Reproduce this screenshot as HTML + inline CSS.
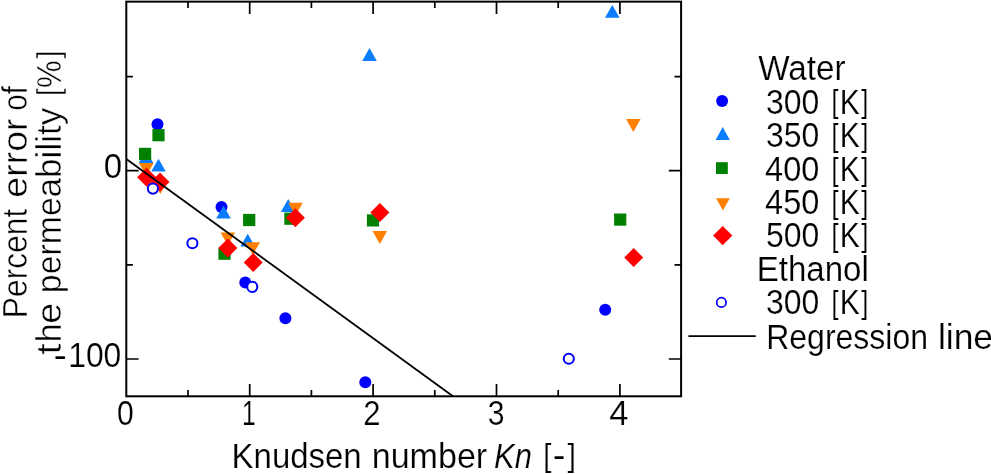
<!DOCTYPE html>
<html><head><meta charset="utf-8"><title>Percent error of the permeability vs Knudsen number</title>
<style>
html,body{margin:0;padding:0;background:#fff;}
svg{display:block;}
text{font-family:"Liberation Sans",sans-serif;font-size:35.5px;fill:#000;stroke:#fff;stroke-width:0.2px;}
</style></head><body>
<svg width="991" height="474" viewBox="0 0 991 474">
<rect width="991" height="474" fill="#fff"/>
<rect x="126.3" y="1.65" width="554.80" height="394.65" fill="none" stroke="#000" stroke-width="2.0"/>
<path d="M188.00 396.3v-6.3M188.00 1.65v6.3M249.70 396.3v-12.3M249.70 1.65v12.3M311.40 396.3v-6.3M311.40 1.65v6.3M373.10 396.3v-12.3M373.10 1.65v12.3M434.80 396.3v-6.3M434.80 1.65v6.3M496.50 396.3v-12.3M496.50 1.65v12.3M558.20 396.3v-6.3M558.20 1.65v6.3M619.90 396.3v-12.3M619.90 1.65v12.3M126.3 76.55h6.6M681.1 76.55h-6.6M126.3 170.70h12.3M681.1 170.70h-12.3M126.3 264.85h6.6M681.1 264.85h-6.6M126.3 359.00h12.3M681.1 359.00h-12.3" stroke="#000" stroke-width="1.7" fill="none"/>
<circle cx="157.5" cy="124.3" r="6.0" fill="#0000ff"/>
<circle cx="221.5" cy="207.1" r="6.0" fill="#0000ff"/>
<circle cx="245.3" cy="282.5" r="6.0" fill="#0000ff"/>
<circle cx="285.4" cy="318.2" r="6.0" fill="#0000ff"/>
<circle cx="365.3" cy="382.3" r="6.0" fill="#0000ff"/>
<circle cx="605.2" cy="309.8" r="6.0" fill="#0000ff"/>
<path d="M138.70 163.10L153.30 163.10L146.00 150.30Z" fill="#0a7dff"/>
<path d="M151.20 171.50L165.80 171.50L158.50 158.70Z" fill="#0a7dff"/>
<path d="M216.20 218.40L230.80 218.40L223.50 205.60Z" fill="#0a7dff"/>
<path d="M240.40 246.50L255.00 246.50L247.70 233.70Z" fill="#0a7dff"/>
<path d="M280.90 211.90L295.50 211.90L288.20 199.10Z" fill="#0a7dff"/>
<path d="M362.20 60.90L376.80 60.90L369.50 48.10Z" fill="#0a7dff"/>
<path d="M605.00 17.70L619.60 17.70L612.30 4.90Z" fill="#0a7dff"/>
<rect x="152.40" y="129.10" width="12.2" height="12.2" fill="#008000"/>
<rect x="139.00" y="147.80" width="12.2" height="12.2" fill="#008000"/>
<rect x="218.40" y="247.60" width="12.2" height="12.2" fill="#008000"/>
<rect x="243.10" y="213.90" width="12.2" height="12.2" fill="#008000"/>
<rect x="284.30" y="212.60" width="12.2" height="12.2" fill="#008000"/>
<rect x="366.90" y="214.30" width="12.2" height="12.2" fill="#008000"/>
<rect x="614.10" y="213.50" width="12.2" height="12.2" fill="#008000"/>
<path d="M139.00 163.00L153.60 163.00L146.30 175.80Z" fill="#ff8000"/>
<path d="M153.00 181.10L167.60 181.10L160.30 193.90Z" fill="#ff8000"/>
<path d="M220.50 232.50L235.10 232.50L227.80 245.30Z" fill="#ff8000"/>
<path d="M245.40 242.30L260.00 242.30L252.70 255.10Z" fill="#ff8000"/>
<path d="M288.20 202.80L302.80 202.80L295.50 215.60Z" fill="#ff8000"/>
<path d="M372.50 231.10L387.10 231.10L379.80 243.90Z" fill="#ff8000"/>
<path d="M626.00 119.10L640.60 119.10L633.30 131.90Z" fill="#ff8000"/>
<path d="M137.10 177.2L146.6 167.70L156.10 177.2L146.6 186.70Z" fill="#ff0000"/>
<path d="M150.50 182.0L160.0 172.50L169.50 182.0L160.0 191.50Z" fill="#ff0000"/>
<path d="M218.30 248.1L227.8 238.60L237.30 248.1L227.8 257.60Z" fill="#ff0000"/>
<path d="M243.70 262.5L253.2 253.00L262.70 262.5L253.2 272.00Z" fill="#ff0000"/>
<path d="M285.90 217.8L295.4 208.30L304.90 217.8L295.4 227.30Z" fill="#ff0000"/>
<path d="M370.40 212.5L379.9 203.00L389.40 212.5L379.9 222.00Z" fill="#ff0000"/>
<path d="M624.20 257.6L633.7 248.10L643.20 257.6L633.7 267.10Z" fill="#ff0000"/>
<circle cx="152.9" cy="188.6" r="5.05" fill="#fff" stroke="#0000ff" stroke-width="2.0"/>
<circle cx="192.4" cy="243.2" r="5.05" fill="#fff" stroke="#0000ff" stroke-width="2.0"/>
<circle cx="252.3" cy="286.9" r="5.05" fill="#fff" stroke="#0000ff" stroke-width="2.0"/>
<circle cx="568.8" cy="358.8" r="5.05" fill="#fff" stroke="#0000ff" stroke-width="2.0"/>
<path d="M126.3 158.9L453.0 396.3" stroke="#000" stroke-width="1.8" fill="none"/>
<circle cx="722.1" cy="101.1" r="6.0" fill="#0000ff"/>
<path d="M715.60 140.00L729.80 140.00L722.70 127.00Z" fill="#0a7dff"/>
<rect x="716.00" y="162.20" width="11.8" height="11.8" fill="#008000"/>
<path d="M716.00 198.20L729.80 198.20L722.90 210.40Z" fill="#ff8000"/>
<path d="M713.10 235.6L722.7 226.00L732.30 235.6L722.7 245.20Z" fill="#ff0000"/>
<circle cx="721.4" cy="302.4" r="4.7" fill="#fff" stroke="#0000ff" stroke-width="1.7"/>
<path d="M688.4 336.2H755.8" stroke="#000" stroke-width="1.7" fill="none"/>
<text><tspan x="758.17" y="79.9" textLength="87.42" lengthAdjust="spacingAndGlyphs">Water</tspan></text>
<text><tspan x="766.05" y="113.6" textLength="53.28" lengthAdjust="spacingAndGlyphs">300</tspan> <tspan x="831.41" y="112.4" textLength="7.05" lengthAdjust="spacingAndGlyphs" style="font-size:31.0px;">[</tspan><tspan x="839.77" y="113.6" textLength="20.00" lengthAdjust="spacingAndGlyphs">K</tspan><tspan x="861.32" y="112.4" textLength="7.05" lengthAdjust="spacingAndGlyphs" style="font-size:31.0px;">]</tspan></text>
<text><tspan x="766.05" y="146.7" textLength="53.28" lengthAdjust="spacingAndGlyphs">350</tspan> <tspan x="831.41" y="145.5" textLength="7.05" lengthAdjust="spacingAndGlyphs" style="font-size:31.0px;">[</tspan><tspan x="839.77" y="146.7" textLength="20.00" lengthAdjust="spacingAndGlyphs">K</tspan><tspan x="861.32" y="145.5" textLength="7.05" lengthAdjust="spacingAndGlyphs" style="font-size:31.0px;">]</tspan></text>
<text><tspan x="765.11" y="180.7" textLength="54.25" lengthAdjust="spacingAndGlyphs">400</tspan> <tspan x="831.41" y="179.5" textLength="7.05" lengthAdjust="spacingAndGlyphs" style="font-size:31.0px;">[</tspan><tspan x="839.77" y="180.7" textLength="20.00" lengthAdjust="spacingAndGlyphs">K</tspan><tspan x="861.32" y="179.5" textLength="7.05" lengthAdjust="spacingAndGlyphs" style="font-size:31.0px;">]</tspan></text>
<text><tspan x="765.11" y="213.8" textLength="54.25" lengthAdjust="spacingAndGlyphs">450</tspan> <tspan x="831.41" y="212.6" textLength="7.05" lengthAdjust="spacingAndGlyphs" style="font-size:31.0px;">[</tspan><tspan x="839.77" y="213.8" textLength="20.00" lengthAdjust="spacingAndGlyphs">K</tspan><tspan x="861.32" y="212.6" textLength="7.05" lengthAdjust="spacingAndGlyphs" style="font-size:31.0px;">]</tspan></text>
<text><tspan x="766.05" y="247.1" textLength="53.28" lengthAdjust="spacingAndGlyphs">500</tspan> <tspan x="831.41" y="245.9" textLength="7.05" lengthAdjust="spacingAndGlyphs" style="font-size:31.0px;">[</tspan><tspan x="839.77" y="247.1" textLength="20.00" lengthAdjust="spacingAndGlyphs">K</tspan><tspan x="861.32" y="245.9" textLength="7.05" lengthAdjust="spacingAndGlyphs" style="font-size:31.0px;">]</tspan></text>
<text><tspan x="756.71" y="280.6" textLength="112.03" lengthAdjust="spacingAndGlyphs">Ethanol</tspan></text>
<text><tspan x="766.05" y="313.8" textLength="53.28" lengthAdjust="spacingAndGlyphs">300</tspan> <tspan x="831.41" y="312.6" textLength="7.05" lengthAdjust="spacingAndGlyphs" style="font-size:31.0px;">[</tspan><tspan x="839.77" y="313.8" textLength="20.00" lengthAdjust="spacingAndGlyphs">K</tspan><tspan x="861.32" y="312.6" textLength="7.05" lengthAdjust="spacingAndGlyphs" style="font-size:31.0px;">]</tspan></text>
<text><tspan x="766.20" y="348.7" textLength="161.90" lengthAdjust="spacingAndGlyphs">Regression</tspan> <tspan x="937.90" y="348.7" textLength="55.21" lengthAdjust="spacingAndGlyphs">line</tspan></text>
<text><tspan x="103.80" y="178.1" textLength="18.39" lengthAdjust="spacingAndGlyphs">0</tspan></text>
<text><tspan x="53.60" y="367.2" textLength="13.38" lengthAdjust="spacingAndGlyphs">-</tspan><tspan x="68.23" y="367.3" textLength="53.10" lengthAdjust="spacingAndGlyphs">100</tspan></text>
<text><tspan x="116.93" y="424.8" textLength="16.74" lengthAdjust="spacingAndGlyphs">0</tspan></text>
<text><tspan x="241.89" y="424.8" textLength="13.73" lengthAdjust="spacingAndGlyphs">1</tspan></text>
<text><tspan x="363.37" y="424.8" textLength="17.26" lengthAdjust="spacingAndGlyphs">2</tspan></text>
<text><tspan x="487.73" y="424.8" textLength="16.74" lengthAdjust="spacingAndGlyphs">3</tspan></text>
<text><tspan x="609.37" y="424.8" textLength="19.20" lengthAdjust="spacingAndGlyphs">4</tspan></text>
<text><tspan x="231.62" y="467.5" textLength="130.02" lengthAdjust="spacingAndGlyphs">Knudsen</tspan> <tspan x="371.74" y="467.5" textLength="115.46" lengthAdjust="spacingAndGlyphs">number</tspan> <tspan x="494.03" y="467.5" textLength="37.83" lengthAdjust="spacingAndGlyphs" font-style="italic">Kn</tspan> <tspan x="543.13" y="466.1" textLength="8.18" lengthAdjust="spacingAndGlyphs" style="font-size:31.0px;">[</tspan><tspan x="552.69" y="467.2" textLength="12.71" lengthAdjust="spacingAndGlyphs">-</tspan><tspan x="567.49" y="466.1" textLength="8.46" lengthAdjust="spacingAndGlyphs" style="font-size:31.0px;">]</tspan></text>
<text transform="rotate(-90)" style="stroke-width:0.5px"><tspan x="-318.18" y="26.6" textLength="109.49" lengthAdjust="spacingAndGlyphs">Percent</tspan> <tspan x="-197.68" y="26.6" textLength="79.13" lengthAdjust="spacingAndGlyphs">error</tspan> <tspan x="-110.75" y="26.6" textLength="24.63" lengthAdjust="spacingAndGlyphs">of</tspan></text>
<text transform="rotate(-90)" style="stroke-width:0.5px"><tspan x="-354.78" y="61.0" textLength="11.41" lengthAdjust="spacingAndGlyphs">t</tspan><tspan x="-342.18" y="61.0" textLength="18.83" lengthAdjust="spacingAndGlyphs">h</tspan><tspan x="-323.69" y="61.0" textLength="20.87" lengthAdjust="spacingAndGlyphs">e</tspan> <tspan x="-293.14" y="61.0" textLength="95.89" lengthAdjust="spacingAndGlyphs">perme</tspan><tspan x="-197.48" y="61.0" textLength="89.80" lengthAdjust="spacingAndGlyphs">ability</tspan> <tspan x="-96.06" y="59.3" textLength="7.76" lengthAdjust="spacingAndGlyphs" style="font-size:31.0px;">[</tspan><tspan x="-87.89" y="61.1" textLength="27.55" lengthAdjust="spacingAndGlyphs">%</tspan><tspan x="-58.50" y="59.3" textLength="8.04" lengthAdjust="spacingAndGlyphs" style="font-size:31.0px;">]</tspan></text>
</svg>
</body></html>
